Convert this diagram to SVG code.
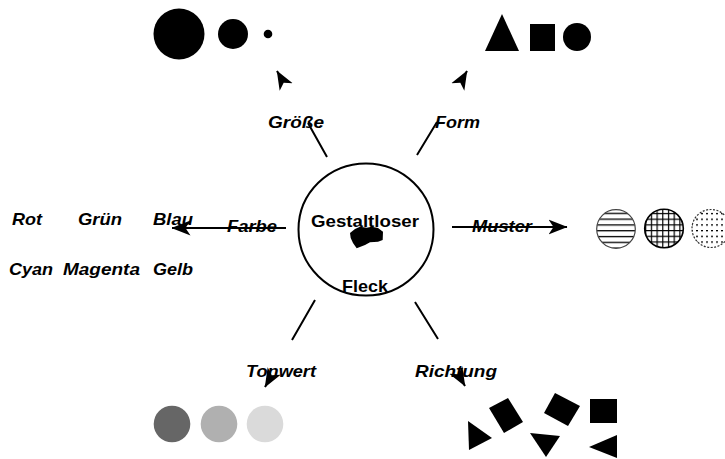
<svg xmlns="http://www.w3.org/2000/svg" width="725" height="459" viewBox="0 0 725 459">
  <style>
    .lbl { font-family: "Liberation Sans", Arial, sans-serif; font-size: 17px; font-weight: bold; font-style: italic; fill: #000; }
    .ctr { font-family: "Liberation Sans", Arial, sans-serif; font-size: 17px; font-weight: bold; fill: #000; }
    .conn { fill: none; stroke: #000; stroke-width: 2; marker-end: url(#arrow); }
    .blk { fill: #000; }
  </style>
  <defs>
    <marker id="arrow" markerUnits="userSpaceOnUse" viewBox="0 0 19 16" markerWidth="19" markerHeight="16" refX="18.5" refY="8" orient="auto">
      <path d="M0,0.5 L19,8 L0,15.5 L5,8 Z" fill="#000"/>
    </marker>
    <pattern id="hlines" patternUnits="userSpaceOnUse" x="0" y="3.9" width="10" height="5.8">
      <rect x="0" y="0" width="10" height="1.3" fill="#000"/>
    </pattern>
    <pattern id="grid" patternUnits="userSpaceOnUse" x="1" y="2" width="5.7" height="5.7">
      <rect x="0" y="0" width="5.7" height="1.2" fill="#000"/>
      <rect x="0" y="0" width="1.2" height="5.7" fill="#000"/>
    </pattern>
    <pattern id="dots" patternUnits="userSpaceOnUse" x="0" y="2" width="5" height="5.7">
      <rect x="1" y="0" width="2" height="1.3" fill="#000"/>
    </pattern>
  </defs>

  <rect width="725" height="459" fill="#fff"/>

  <!-- Centre node -->
  <g id="node-center">
    <ellipse cx="366" cy="229.5" rx="67.5" ry="66" fill="#fff" stroke="#000" stroke-width="2"/>
    <path class="blk" d="M350,233 L355,229 L360,226.7 L366.7,227.7 L371.7,226.7 L378,228 L383,231.7 L382.7,240 L378,241.7 L370,242.3 L365,245 L356.7,248.3 L353,243 L350.7,238 Z"/>
    <text class="ctr" x="311" y="227" textLength="108" lengthAdjust="spacingAndGlyphs">Gestaltloser</text>
    <text class="ctr" x="342" y="292" textLength="46" lengthAdjust="spacingAndGlyphs">Fleck</text>
  </g>

  <!-- Größe -->
  <g id="node-groesse">
    <circle class="blk" cx="179" cy="34" r="25.5"/>
    <circle class="blk" cx="233" cy="34" r="15"/>
    <circle class="blk" cx="268" cy="34" r="4.3"/>
  </g>

  <!-- Form -->
  <g id="node-form">
    <polygon class="blk" points="502,14 519,51 485,51"/>
    <rect class="blk" x="530" y="24" width="25" height="27"/>
    <circle class="blk" cx="577" cy="37" r="14"/>
  </g>

  <!-- Farbe -->
  <g id="node-farbe">
    <text class="lbl" x="12" y="225" textLength="30" lengthAdjust="spacingAndGlyphs">Rot</text>
    <text class="lbl" x="78" y="225" textLength="44" lengthAdjust="spacingAndGlyphs">Grün</text>
    <text class="lbl" x="153" y="225" textLength="40" lengthAdjust="spacingAndGlyphs">Blau</text>
    <text class="lbl" x="9" y="275" textLength="44" lengthAdjust="spacingAndGlyphs">Cyan</text>
    <text class="lbl" x="63" y="275" textLength="77" lengthAdjust="spacingAndGlyphs">Magenta</text>
    <text class="lbl" x="153" y="275" textLength="40" lengthAdjust="spacingAndGlyphs">Gelb</text>
  </g>

  <!-- Muster -->
  <g id="node-muster">
    <circle cx="616" cy="229" r="19.3" fill="url(#hlines)" stroke="#444" stroke-width="1.2"/>
    <circle cx="664" cy="228.5" r="19.3" fill="url(#grid)" stroke="#000" stroke-width="1.6"/>
    <circle cx="711" cy="228.5" r="19" fill="url(#dots)" stroke="#333" stroke-width="1.2" stroke-dasharray="2 1.5"/>
  </g>

  <!-- Tonwert -->
  <g id="node-tonwert">
    <circle cx="172" cy="424" r="18.3" fill="#666"/>
    <circle cx="219" cy="424" r="18.3" fill="#b0b0b0"/>
    <circle cx="265" cy="424" r="18.3" fill="#dadada"/>
  </g>

  <!-- Richtung -->
  <g id="node-richtung">
    <polygon class="blk" points="468,421 492,438 469,450"/>
    <polygon class="blk" points="489,408 508,398 523,422 504,433"/>
    <polygon class="blk" points="530,433 560,436 546,457"/>
    <polygon class="blk" points="544,413 555,393 580,406 568,426"/>
    <rect class="blk" x="590" y="399" width="27" height="24"/>
    <polygon class="blk" points="589,447 617,435 617,458"/>
  </g>

  <!-- Connector labels -->
  <g id="labels">
    <text class="lbl" x="268" y="128" textLength="56" lengthAdjust="spacingAndGlyphs">Größe</text>
    <text class="lbl" x="435" y="128" textLength="45" lengthAdjust="spacingAndGlyphs">Form</text>
    <text class="lbl" x="227" y="232" textLength="50" lengthAdjust="spacingAndGlyphs">Farbe</text>
    <text class="lbl" x="472" y="232" textLength="60" lengthAdjust="spacingAndGlyphs">Muster</text>
    <text class="lbl" x="246" y="377" textLength="70" lengthAdjust="spacingAndGlyphs">Tonwert</text>
    <text class="lbl" x="415" y="377" textLength="82" lengthAdjust="spacingAndGlyphs">Richtung</text>
  </g>

  <!-- Connectors -->
  <g id="connectors">
    <path class="conn" d="M327,157 L308,123 M281,78 L277,71"/>
    <path class="conn" d="M417,155 L437,122 M463,78 L467,71"/>
    <path class="conn" d="M286,228 L172,228"/>
    <path class="conn" d="M452,227 L567,227"/>
    <path class="conn" d="M315,300 L292,340 M269,380 L265,387"/>
    <path class="conn" d="M415,302 L438,339 M461,379 L465,386"/>
  </g>
</svg>
